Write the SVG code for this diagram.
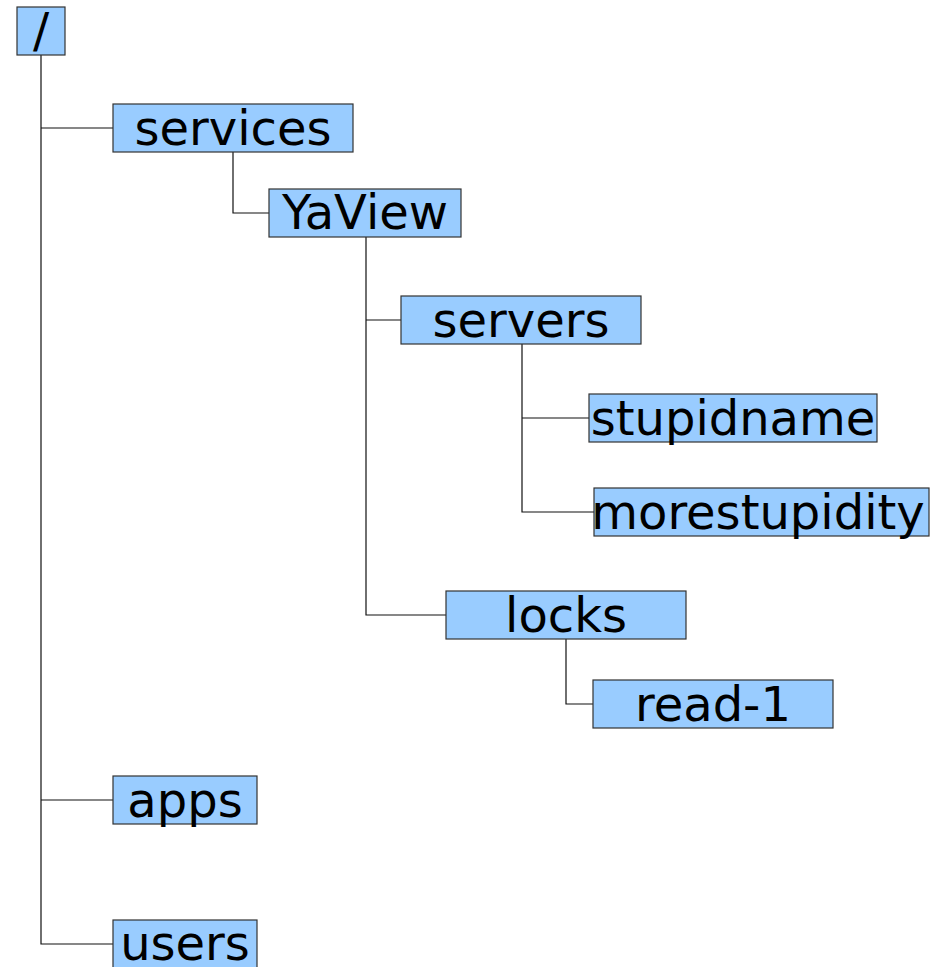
<svg xmlns="http://www.w3.org/2000/svg" width="946" height="967" viewBox="0 0 946 967">
  <style>
    .box { fill: #99ccff; stroke: #333333; stroke-width: 1.2; }
    .lbl { font-family: "DejaVu Sans", "Liberation Sans", sans-serif; font-size: 48px; fill: #000000; text-anchor: middle; }
    .wire { fill: none; stroke: #111111; stroke-width: 1.2; }
  </style>
  <rect width="946" height="967" fill="#ffffff"/>

  <!-- tree connectors -->
  <g id="connectors">
    <path class="wire" d="M41 55 V944 H113"/>
    <path class="wire" d="M41 128 H113"/>
    <path class="wire" d="M41 800 H113"/>
    <path class="wire" d="M233 152 V213 H269"/>
    <path class="wire" d="M366 237 V615 H446"/>
    <path class="wire" d="M366 320 H401"/>
    <path class="wire" d="M522 344 V512 H594"/>
    <path class="wire" d="M522 418 H589"/>
    <path class="wire" d="M566 639 V704 H593"/>
  </g>

  <g id="root">
    <rect class="box" x="17" y="7" width="48" height="48"/>
    <text class="lbl" x="41" y="47">/</text>
  </g>
  <g id="services">
    <rect class="box" x="113" y="104" width="240" height="48"/>
    <text class="lbl" x="233" y="145">services</text>
  </g>
  <g id="yaview">
    <rect class="box" x="269" y="189" width="192" height="48"/>
    <text class="lbl" x="365" y="229">YaView</text>
  </g>
  <g id="servers">
    <rect class="box" x="401" y="296" width="240" height="48"/>
    <text class="lbl" x="521" y="337">servers</text>
  </g>
  <g id="stupidname">
    <rect class="box" x="589" y="394" width="288" height="48"/>
    <text class="lbl" x="733" y="435">stupidname</text>
  </g>
  <g id="morestupidity">
    <rect class="box" x="594" y="488" width="335" height="48"/>
    <text class="lbl" x="758" y="529">morestupidity</text>
  </g>
  <g id="locks">
    <rect class="box" x="446" y="591" width="240" height="48"/>
    <text class="lbl" x="566" y="632">locks</text>
  </g>
  <g id="read-1">
    <rect class="box" x="593" y="680" width="240" height="48"/>
    <text class="lbl" x="713" y="721">read-1</text>
  </g>
  <g id="apps">
    <rect class="box" x="113" y="776" width="144" height="48"/>
    <text class="lbl" x="185" y="817">apps</text>
  </g>
  <g id="users">
    <rect class="box" x="113" y="920" width="144" height="48"/>
    <text class="lbl" x="185" y="960">users</text>
  </g>
</svg>
